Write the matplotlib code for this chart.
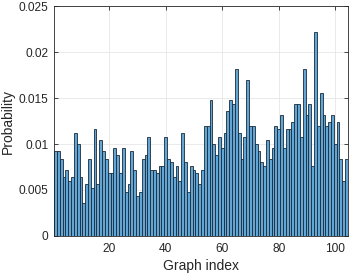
import numpy as np
import matplotlib.pyplot as plt

# probability of each graph index
graph_index = np.arange(1, 105)
probability = [
    0.0092, 0.0092, 0.0084, 0.0064, 0.0072, 0.0060, 0.0064, 0.0112, 0.0100, 0.0064,
    0.0036, 0.0056, 0.0084, 0.0052, 0.0116, 0.0056, 0.0104, 0.0092, 0.0084, 0.0068,
    0.0068, 0.0096, 0.0088, 0.0068, 0.0096, 0.0048, 0.0056, 0.0092, 0.0072, 0.0044,
    0.0048, 0.0084, 0.0088, 0.0108, 0.0072, 0.0072, 0.0068, 0.0076, 0.0076, 0.0108,
    0.0084, 0.0080, 0.0064, 0.0076, 0.0060, 0.0112, 0.0080, 0.0048, 0.0076, 0.0072,
    0.0068, 0.0056, 0.0072, 0.0120, 0.0120, 0.0148, 0.0100, 0.0088, 0.0108, 0.0096,
    0.0112, 0.0136, 0.0148, 0.0144, 0.0182, 0.0112, 0.0084, 0.0108, 0.0170, 0.0120,
    0.0120, 0.0100, 0.0092, 0.0080, 0.0076, 0.0104, 0.0084, 0.0096, 0.0120, 0.0116,
    0.0132, 0.0096, 0.0116, 0.0116, 0.0124, 0.0144, 0.0144, 0.0108, 0.0182, 0.0132,
    0.0144, 0.0076, 0.0222, 0.0120, 0.0156, 0.0132, 0.0120, 0.0124, 0.0132, 0.0100,
    0.0124, 0.0084, 0.0060, 0.0084,
]
yticks = [0, 0.005, 0.01, 0.015, 0.02, 0.025]
ytick_labels = ['0', '0.005', '0.01', '0.015', '0.02', '0.025']
xticks = [20, 40, 60, 80, 100]

plt.rcParams['font.family'] = ['Liberation Sans', 'DejaVu Sans']
axcol = '#262626'

fig = plt.figure(figsize=(3.49, 2.76), dpi=100)
ax = fig.add_axes([0.155, 0.145, 0.842, 0.833])

ax.bar(graph_index, probability, width=1.0, color='#62a6d6',
       edgecolor='#1a2a3a', linewidth=0.6, zorder=2)

ax.set_xlim(0.5, 104.5)
ax.set_ylim(0, 0.025)
ax.set_xticks(xticks)
ax.set_yticks(yticks)
ax.set_yticklabels(ytick_labels)
ax.grid(True, color='#e6e6e6', linewidth=0.6, zorder=0)
ax.set_axisbelow(True)

ax.tick_params(direction='in', length=3, width=0.6, colors=axcol,
               labelsize=8.6, top=True, right=True)
ax.tick_params(axis='y', pad=4)
ax.tick_params(axis='x', pad=5)
for s in ax.spines.values():
    s.set_color(axcol)
    s.set_linewidth(0.6)

ax.set_xlabel('Graph index', fontsize=10, color=axcol, labelpad=3)
ax.set_ylabel('Probability', fontsize=10, color=axcol, labelpad=3)

fig.savefig('out.png', dpi=100)
